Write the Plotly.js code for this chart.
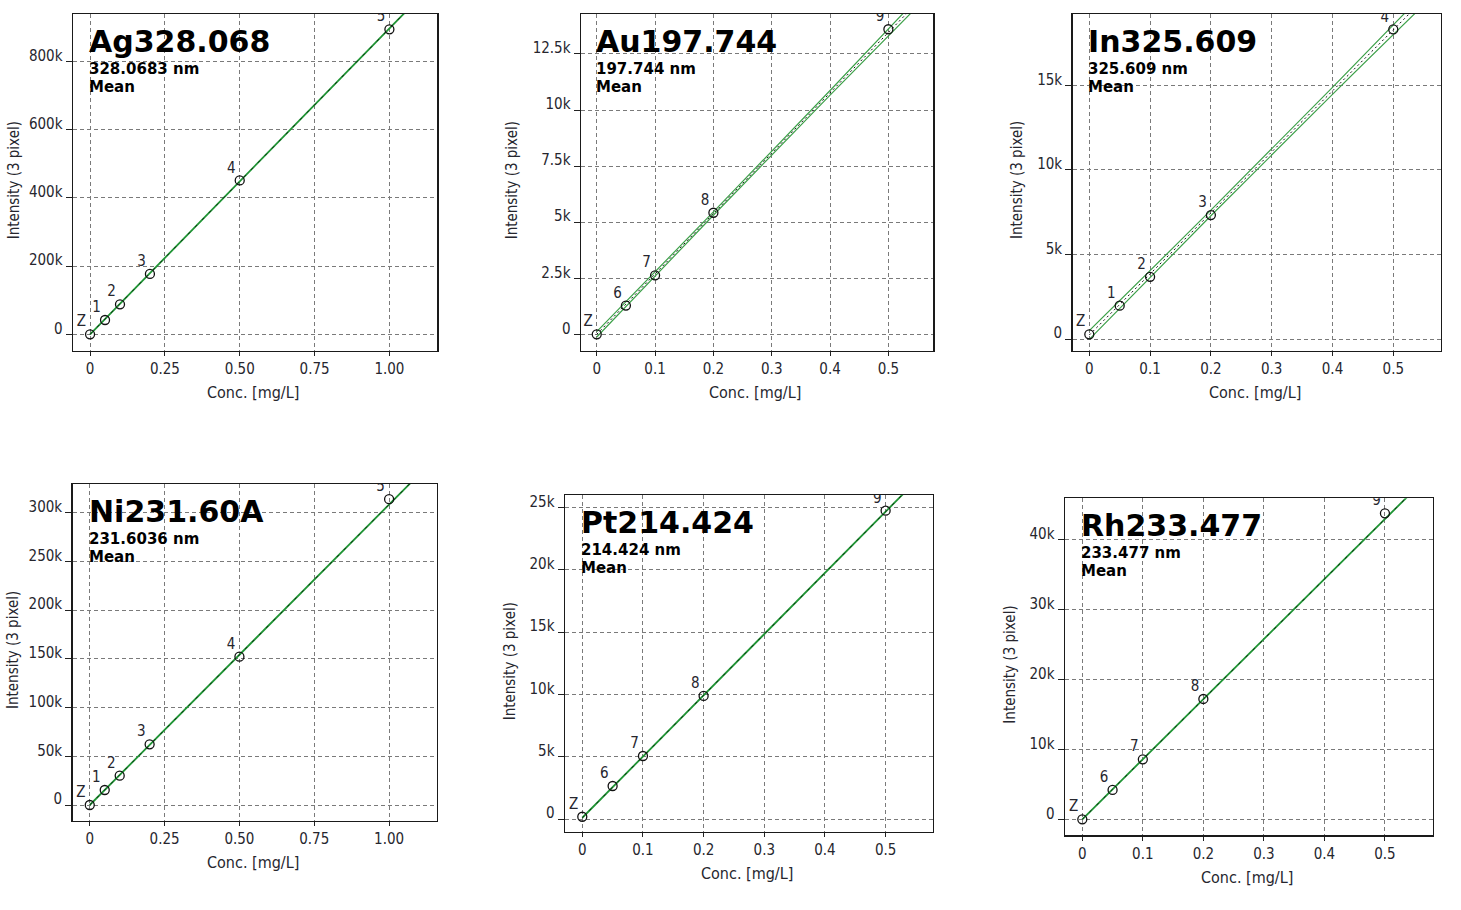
<!DOCTYPE html>
<html>
<head>
<meta charset="utf-8">
<script src="https://cdn.plot.ly/plotly-3.0.1.min.js"></script>
<style>
  html, body { margin: 0; padding: 0; background: #ffffff; }
  #graph_body { width: 1461px; height: 910px; }
</style>
</head>
<body>
<div id="graph_body"></div>
<script>
// Calibration curves, one panel per element line

// standards 0..5 (Ag, Ni) and Z, 6..9 (Au, Pt, Rh)
var concA = [0, 0.05, 0.1, 0.2, 0.5, 1.0];
var labelsA = ['Z', '1', '2', '3', '4', '5'];
var concB = [0, 0.05, 0.1, 0.2, 0.5];
var labelsB = ['Z', '6', '7', '8', '9'];
var labelsIn = ['Z', '1', '2', '3', '4'];

var agInt = [0, 42000, 88000, 177000, 451000, 894000];
var auInt = [0, 1280, 2630, 5420, 13600];
var inInt = [280, 1970, 3680, 7330, 18310];
var niInt = [0, 15400, 30100, 62300, 152200, 313800];
var ptInt = [180, 2650, 5060, 9880, 24760];
var rhInt = [0, 4200, 8590, 17230, 43820];

// fitted lines (ends of the line)
var fitConcA = [0, 1.2];
var fitConcB = [0, 0.6];
var agFit = [0, 1076000];
var niFit = [0, 370000];
var auFit = [0, 16150];
var inFit = [240, 21890];
var ptFit = [100, 29600];
var rhFit = [0, 51600];

// confidence band (only visible on Au and In)
var bandConc = [0, 0.2, 0.4, 0.6];
var auUpper = [120, 5460, 10870, 16360];
var auLower = [-120, 5310, 10660, 15940];
var inUpper = [500, 7620, 14880, 22270];
var inLower = [-20, 7290, 14470, 21510];

// tick labels
var xTicksA = [0, 0.25, 0.5, 0.75, 1.0];
var xTextA = ['0', '0.25', '0.50', '0.75', '1.00'];
var xTicksB = [0, 0.1, 0.2, 0.3, 0.4, 0.5];
var xTextB = ['0', '0.1', '0.2', '0.3', '0.4', '0.5'];
var agTicks = [0, 200000, 400000, 600000, 800000];
var agText = ['0', '200k', '400k', '600k', '800k'];
var auTicks = [0, 2500, 5000, 7500, 10000, 12500];
var auText = ['0', '2.5k', '5k', '7.5k', '10k', '12.5k'];
var inTicks = [0, 5000, 10000, 15000];
var inText = ['0', '5k', '10k', '15k'];
var niTicks = [0, 50000, 100000, 150000, 200000, 250000, 300000];
var niText = ['0', '50k', '100k', '150k', '200k', '250k', '300k'];
var ptTicks = [0, 5000, 10000, 15000, 20000, 25000];
var ptText = ['0', '5k', '10k', '15k', '20k', '25k'];
var rhTicks = [0, 10000, 20000, 30000, 40000];
var rhText = ['0', '10k', '20k', '30k', '40k'];

var W = 1461, H = 910;
var FONT = "'DejaVu Sans Condensed', 'Liberation Sans', sans-serif";
var BOLD = "'DejaVu Sans', Verdana, sans-serif";
var GREEN = '#1f9434';
var BAND_GREEN = '#3ea14a';
var TEXT = '#26262e';

// panel boxes in pixels: left, right, top, bottom
var panels = [
    {name: 'Ag328.068', wl: '328.0683 nm', box: [73, 437, 14, 350.7], xr: [-0.057, 1.159], yr: [-48000, 939000],
     conc: concA, val: agInt, lab: labelsA, fx: fitConcA, fy: agFit, xt: xTicksA, xs: xTextA, yt: agTicks, ys: agText, ytx: -59},
    {name: 'Au197.744', wl: '197.744 nm', box: [581, 933.3, 14, 350.7], xr: [-0.027, 0.577], yr: [-730, 14280],
     conc: concB, val: auInt, lab: labelsB, fx: fitConcB, fy: auFit, xt: xTicksB, xs: xTextB, yt: auTicks, ys: auText, ytx: -69,
     up: auUpper, lo: auLower},
    {name: 'In325.609', wl: '325.609 nm', box: [1072.7, 1440.7, 14, 350.7], xr: [-0.0273, 0.578], yr: [-690, 19220],
     conc: concB, val: inInt, lab: labelsIn, fx: fitConcB, fy: inFit, xt: xTicksB, xs: xTextB, yt: inTicks, ys: inText, ytx: -55,
     up: inUpper, lo: inLower},
    {name: 'Ni231.60A', wl: '231.6036 nm', box: [72.7, 436.7, 484, 820.7], xr: [-0.057, 1.159], yr: [-16100, 329400],
     conc: concA, val: niInt, lab: labelsA, fx: fitConcA, fy: niFit, xt: xTicksA, xs: xTextA, yt: niTicks, ys: niText, ytx: -59},
    {name: 'Pt214.424', wl: '214.424 nm', box: [565, 932.7, 495, 831.7], xr: [-0.0285, 0.5776], yr: [-1020, 26020],
     conc: concB, val: ptInt, lab: labelsB, fx: fitConcB, fy: ptFit, xt: xTicksB, xs: xTextB, yt: ptTicks, ys: ptText, ytx: -55},
    {name: 'Rh233.477', wl: '233.477 nm', box: [1065, 1432.7, 498.3, 835], xr: [-0.0286, 0.5789], yr: [-2250, 45970],
     conc: concB, val: rhInt, lab: labelsB, fx: fitConcB, fy: rhFit, xt: xTicksB, xs: xTextB, yt: rhTicks, ys: rhText, ytx: -55}
];

var data = [];
var layout = {
    width: W, height: H,
    margin: {l: 0, r: 0, t: 0, b: 0},
    paper_bgcolor: '#ffffff',
    plot_bgcolor: '#ffffff',
    showlegend: false,
    font: {family: FONT, size: 15, color: TEXT},
    annotations: []
};

for (var i = 0; i < panels.length; i++) {
    var p = panels[i];
    var n = i + 1;
    var xa = 'x' + (n == 1 ? '' : n);
    var ya = 'y' + (n == 1 ? '' : n);

    // band lines first so the fit sits on top
    if (p.up) {
        data.push({x: bandConc, y: p.up, xaxis: xa, yaxis: ya, mode: 'lines', type: 'scatter',
                   line: {color: BAND_GREEN, width: 1.2, shape: 'spline'}, hoverinfo: 'skip'});
        data.push({x: bandConc, y: p.lo, xaxis: xa, yaxis: ya, mode: 'lines', type: 'scatter',
                   line: {color: BAND_GREEN, width: 1.2, shape: 'spline'}, hoverinfo: 'skip'});
        data.push({x: p.fx, y: p.fy, xaxis: xa, yaxis: ya, mode: 'lines', type: 'scatter',
                   line: {color: '#111111', width: 1, dash: '2px,3px'}, hoverinfo: 'skip'});
    } else {
        data.push({x: p.fx, y: p.fy, xaxis: xa, yaxis: ya, mode: 'lines', type: 'scatter',
                   line: {color: GREEN, width: 1.8}, hoverinfo: 'skip'});
        data.push({x: p.fx, y: p.fy, xaxis: xa, yaxis: ya, mode: 'lines', type: 'scatter',
                   line: {color: '#0b2e10', width: 1, dash: '3px,7px'}, hoverinfo: 'skip'});
    }

    // standards as open circles
    data.push({x: p.conc, y: p.val, xaxis: xa, yaxis: ya, mode: 'markers', type: 'scatter',
               marker: {symbol: 'circle-open', size: 9, color: '#111111', line: {width: 1.3}}});
    // standard labels (hidden small marker keeps the text close to the point)
    data.push({x: p.conc, y: p.val, xaxis: xa, yaxis: ya, mode: 'markers+text', type: 'scatter',
               text: p.lab, textposition: 'top left',
               textfont: {family: FONT, size: 15, color: TEXT},
               marker: {size: 5, opacity: 0}, hoverinfo: 'skip'});

    var b = p.box;
    layout['xaxis' + (n == 1 ? '' : n)] = {
        domain: [b[0] / W, b[1] / W], anchor: ya, range: p.xr,
        tickvals: p.xt, ticktext: p.xs, ticks: 'outside', ticklen: 4, tickcolor: '#222',
        showgrid: true, gridcolor: '#7a7a7a', griddash: '4px,3px', gridwidth: 1,
        zeroline: false, showline: true, mirror: true, linecolor: '#1a1a1a', linewidth: 1.5,
        tickfont: {family: FONT, size: 15, color: TEXT}, fixedrange: true
    };
    layout['yaxis' + (n == 1 ? '' : n)] = {
        domain: [1 - b[3] / H, 1 - b[2] / H], anchor: xa, range: p.yr,
        tickvals: p.yt, ticktext: p.ys, ticks: 'outside', ticklen: 6, tickcolor: '#222',
        ticklabelshift: -6,
        showgrid: true, gridcolor: '#7a7a7a', griddash: '4px,3px', gridwidth: 1,
        zeroline: false, showline: true, mirror: true, linecolor: '#1a1a1a', linewidth: 1.5,
        tickfont: {family: FONT, size: 15, color: TEXT}, fixedrange: true
    };

    // element title, wavelength and "Mean" inside the box
    layout.annotations.push({text: '<b>' + p.name + '</b>', xref: xa, x: 0, xanchor: 'left', xshift: -3,
        yref: ya + ' domain', y: 1, yanchor: 'top', yshift: -8, showarrow: false,
        font: {family: BOLD, size: 30, color: '#000000'}});
    layout.annotations.push({text: '<b>' + p.wl + '</b>', xref: xa, x: 0, xanchor: 'left', xshift: -3,
        yref: ya + ' domain', y: 1, yanchor: 'top', yshift: -44, showarrow: false,
        font: {family: BOLD, size: 15, color: '#000000'}});
    layout.annotations.push({text: '<b>Mean</b>', xref: xa, x: 0, xanchor: 'left', xshift: -3,
        yref: ya + ' domain', y: 1, yanchor: 'top', yshift: -62, showarrow: false,
        font: {family: BOLD, size: 15, color: '#000000'}});

    // axis titles
    layout.annotations.push({text: 'Conc. [mg/L]', xref: xa + ' domain', x: 0.5, xanchor: 'center', xshift: -2,
        yref: ya + ' domain', y: 0, yanchor: 'middle', yshift: -42, showarrow: false,
        font: {family: FONT, size: 16, color: TEXT}});
    layout.annotations.push({text: 'Intensity (3 pixel)', xref: xa + ' domain', x: 0, xanchor: 'center', xshift: p.ytx,
        yref: ya + ' domain', y: 0.5, yanchor: 'middle', yshift: 2, textangle: -90, showarrow: false,
        font: {family: FONT, size: 15, color: TEXT}});
}

var config = {responsive: false, displayModeBar: false, staticPlot: true};

Plotly.newPlot('graph_body', data, layout, config);
</script>
</body>
</html>
